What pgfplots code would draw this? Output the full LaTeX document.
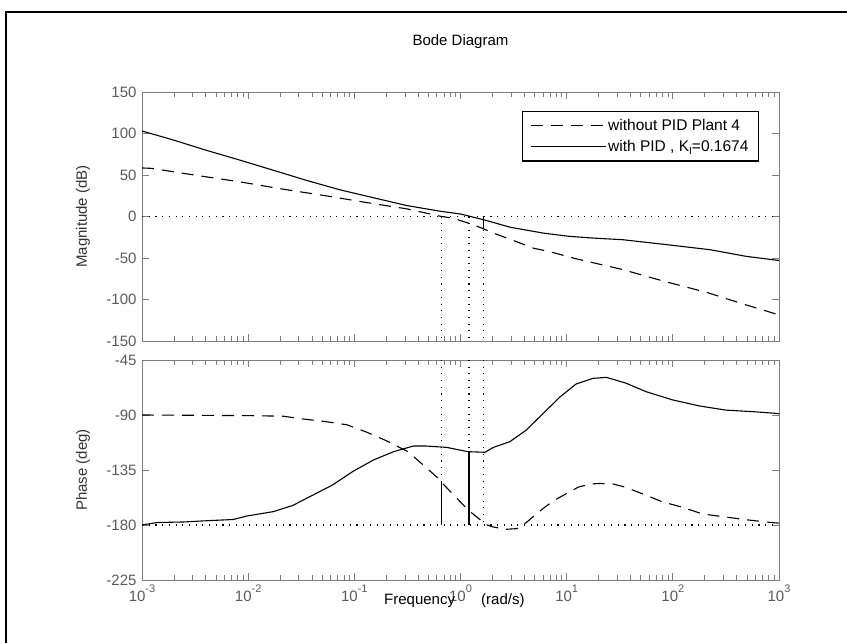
\documentclass[border=0pt]{standalone}
\usepackage{pgfplots}
\pgfplotsset{compat=1.18}
\usepackage{fontspec}
\setmainfont{Liberation Sans}
\definecolor{axgray}{RGB}{125,125,125}
\definecolor{lblgray}{RGB}{90,90,90}

\pgfplotstableread{
L v
-3 103
-2.7 92
-2.4 80
-2.08 68
-1.76 55.6
-1.45 43.5
-1.14 32.3
-0.82 22.6
-0.51 13.3
-0.2 6.5
0 3
0.08 0.5
0.22 -4
0.47 -13
0.78 -20
1.03 -24
1.25 -26
1.53 -28
1.88 -33
2.35 -40
2.69 -48
3 -53
}\magpid

\pgfplotstableread{
L v
-3 58.5
-2.91 58
-2.49 49.6
-2.09 42
-1.7 33.5
-1.29 25.4
-0.89 16.9
-0.51 9.3
-0.32 4
-0.18 0
-0.07 -2
0.12 -10
0.22 -15
0.31 -20
0.5 -29
0.69 -38.3
0.83 -42
1.09 -51
1.52 -63.7
1.91 -77.8
2.32 -91.5
2.69 -106.5
2.96 -117
3 -119
}\magplant

\pgfplotstableread{
L v
-3 -90
-2 -90.5
-1.67 -91
-1.48 -93.3
-1.28 -95.3
-1.07 -98
-0.885 -104
-0.70 -111
-0.495 -120
-0.35 -131
-0.22 -141
-0.18 -145
0.02 -163
0.09 -169
0.19 -176
0.22 -179
0.3 -181.5
0.43 -183.5
0.53 -183
0.62 -178
0.7 -172
0.8 -165
0.9 -159
1.11 -149
1.22 -146.5
1.31 -146
1.44 -146.5
1.55 -149
1.70 -154
1.9 -161
2.09 -165.5
2.28 -171
2.5 -173.5
2.69 -175.7
2.93 -178
3 -178.5
}\phplant

\pgfplotstableread{
L v
-3 -180
-2.86 -178
-2.6 -177.5
-2.39 -176.5
-2.14 -175.5
-2.01 -172.6
-1.76 -169
-1.58 -164
-1.39 -155.5
-1.2 -147
-1.01 -136
-0.82 -126.8
-0.63 -120
-0.445 -115.4
-0.32 -115.4
-0.13 -116.5
0.07 -120
0.23 -120.5
0.31 -116.5
0.465 -111.8
0.62 -102.3
0.78 -88.6
0.94 -75
1.09 -64.6
1.25 -60
1.375 -59.2
1.56 -64
1.75 -71
2.0 -77.7
2.25 -82.6
2.5 -86
2.76 -87.3
2.96 -88.6
3 -89
}\phpid

\pgfplotsset{
  bode/.style={
    anchor=south west, scale only axis, width=637pt,
    xmin=-3, xmax=3, xtick={-3,-2,-1,0,1,2,3},
    minor xtick={-2.69897,-2.52288,-2.39794,-2.30103,-2.22185,-2.15490,-2.09691,-2.04576,
      -1.69897,-1.52288,-1.39794,-1.30103,-1.22185,-1.15490,-1.09691,-1.04576,
      -0.69897,-0.52288,-0.39794,-0.30103,-0.22185,-0.15490,-0.09691,-0.04576,
      0.30103,0.47712,0.60206,0.69897,0.77815,0.84510,0.90309,0.95424,
      1.30103,1.47712,1.60206,1.69897,1.77815,1.84510,1.90309,1.95424,
      2.30103,2.47712,2.60206,2.69897,2.77815,2.84510,2.90309,2.95424},
    axis line style={axgray, line width=0.9pt},
    tick style={axgray, line width=0.9pt},
    major tick length=7pt, minor tick length=5pt,
    tick label style={font=\fontsize{15}{18}\selectfont, text=lblgray},
    yticklabel style={xshift=-2pt},
    clip=true,
  },
  curve/.style={black, line width=1.1pt},
  dashc/.style={black, line width=1.1pt, dash pattern=on 12pt off 8pt},
  dotc/.style={black, line width=1.1pt, dash pattern=on 1.1pt off 5.6pt},
}
\newcommand{\tl}[1]{10\raisebox{9pt}{\fontsize{11}{11}\selectfont #1}}

\begin{document}
\begin{tikzpicture}[x=1pt,y=1pt]
\useasboundingbox (0,0) rectangle (847,643);
\draw[line width=1.6pt] (6,0) -- (6,631) -- (847,631);
\node[font=\fontsize{15}{18}\selectfont] at (460.5,601) {Bode Diagram};
\node[font=\fontsize{15}{18}\selectfont, text=black!80, rotate=90] at (83,426.5) {Magnitude (dB)};
\node[font=\fontsize{15}{18}\selectfont, text=black!80, rotate=90] at (83,173) {Phase (deg)};

\begin{axis}[bode, at={(142pt,302pt)}, height=249pt,
  ymin=-150, ymax=150, ytick={-150,-100,-50,0,50,100,150},
  yticklabels={-150,-100,-50,0,50,100,150},
  xticklabels={},
  legend style={at={(axis description cs:0.9686,0.9237)}, anchor=north east,
    draw=black, line width=1.1pt, font=\fontsize{15.5}{18}\selectfont,
    inner xsep=8pt, inner ysep=6pt, row sep=4pt, fill=white},
  legend cell align=left,
  legend image code/.code={\draw[#1] (0pt,0pt) -- (75pt,0pt);},
]
\addplot[dashc] table[x=L,y=v] {\magplant};
\addlegendentry{without PID Plant 4}
\addplot[curve] table[x=L,y=v] {\magpid};
\addlegendentry{with PID , K\raisebox{-3pt}{\fontsize{10}{10}\selectfont I}=0.1674}
\addplot[dotc, forget plot] coordinates {(-3,0) (3,0)};
\addplot[dotc, forget plot] coordinates {(-0.18,0) (-0.18,-150)};
\addplot[dotc, forget plot] coordinates {(0.08,0) (0.08,-150)};
\addplot[dotc, forget plot] coordinates {(0.22,0) (0.22,-150)};
\addplot[curve, forget plot] coordinates {(0.22,0) (0.22,-15)};
\end{axis}

\begin{axis}[bode, at={(142pt,63pt)}, height=220pt,
  ymin=-225, ymax=-45, ytick={-225,-180,-135,-90,-45},
  yticklabels={-225,-180,-135,-90,-45},
  xticklabels={\tl{-3},\tl{-2},\tl{-1},\tl{0},\tl{1},\tl{2},\tl{3}},
  xticklabel style={anchor=base, yshift=-22pt},
]
\addplot[dashc] table[x=L,y=v] {\phplant};
\addplot[curve] table[x=L,y=v] {\phpid};
\addplot[dotc] coordinates {(-3,-180) (3,-180)};
\addplot[dotc] coordinates {(-0.18,-45) (-0.18,-180)};
\addplot[dotc] coordinates {(0.08,-45) (0.08,-180)};
\addplot[dotc] coordinates {(0.22,-45) (0.22,-180)};
\addplot[curve] coordinates {(-0.18,-180) (-0.18,-145)};
\addplot[curve] coordinates {(0.08,-180) (0.08,-120)};
\end{axis}
\node[font=\fontsize{15}{18}\selectfont, anchor=west, inner sep=0pt] at (384,42) {Frequency};
\node[font=\fontsize{15}{18}\selectfont, anchor=west, inner sep=0pt] at (481,42) {(rad/s)};
\end{tikzpicture}
\end{document}
